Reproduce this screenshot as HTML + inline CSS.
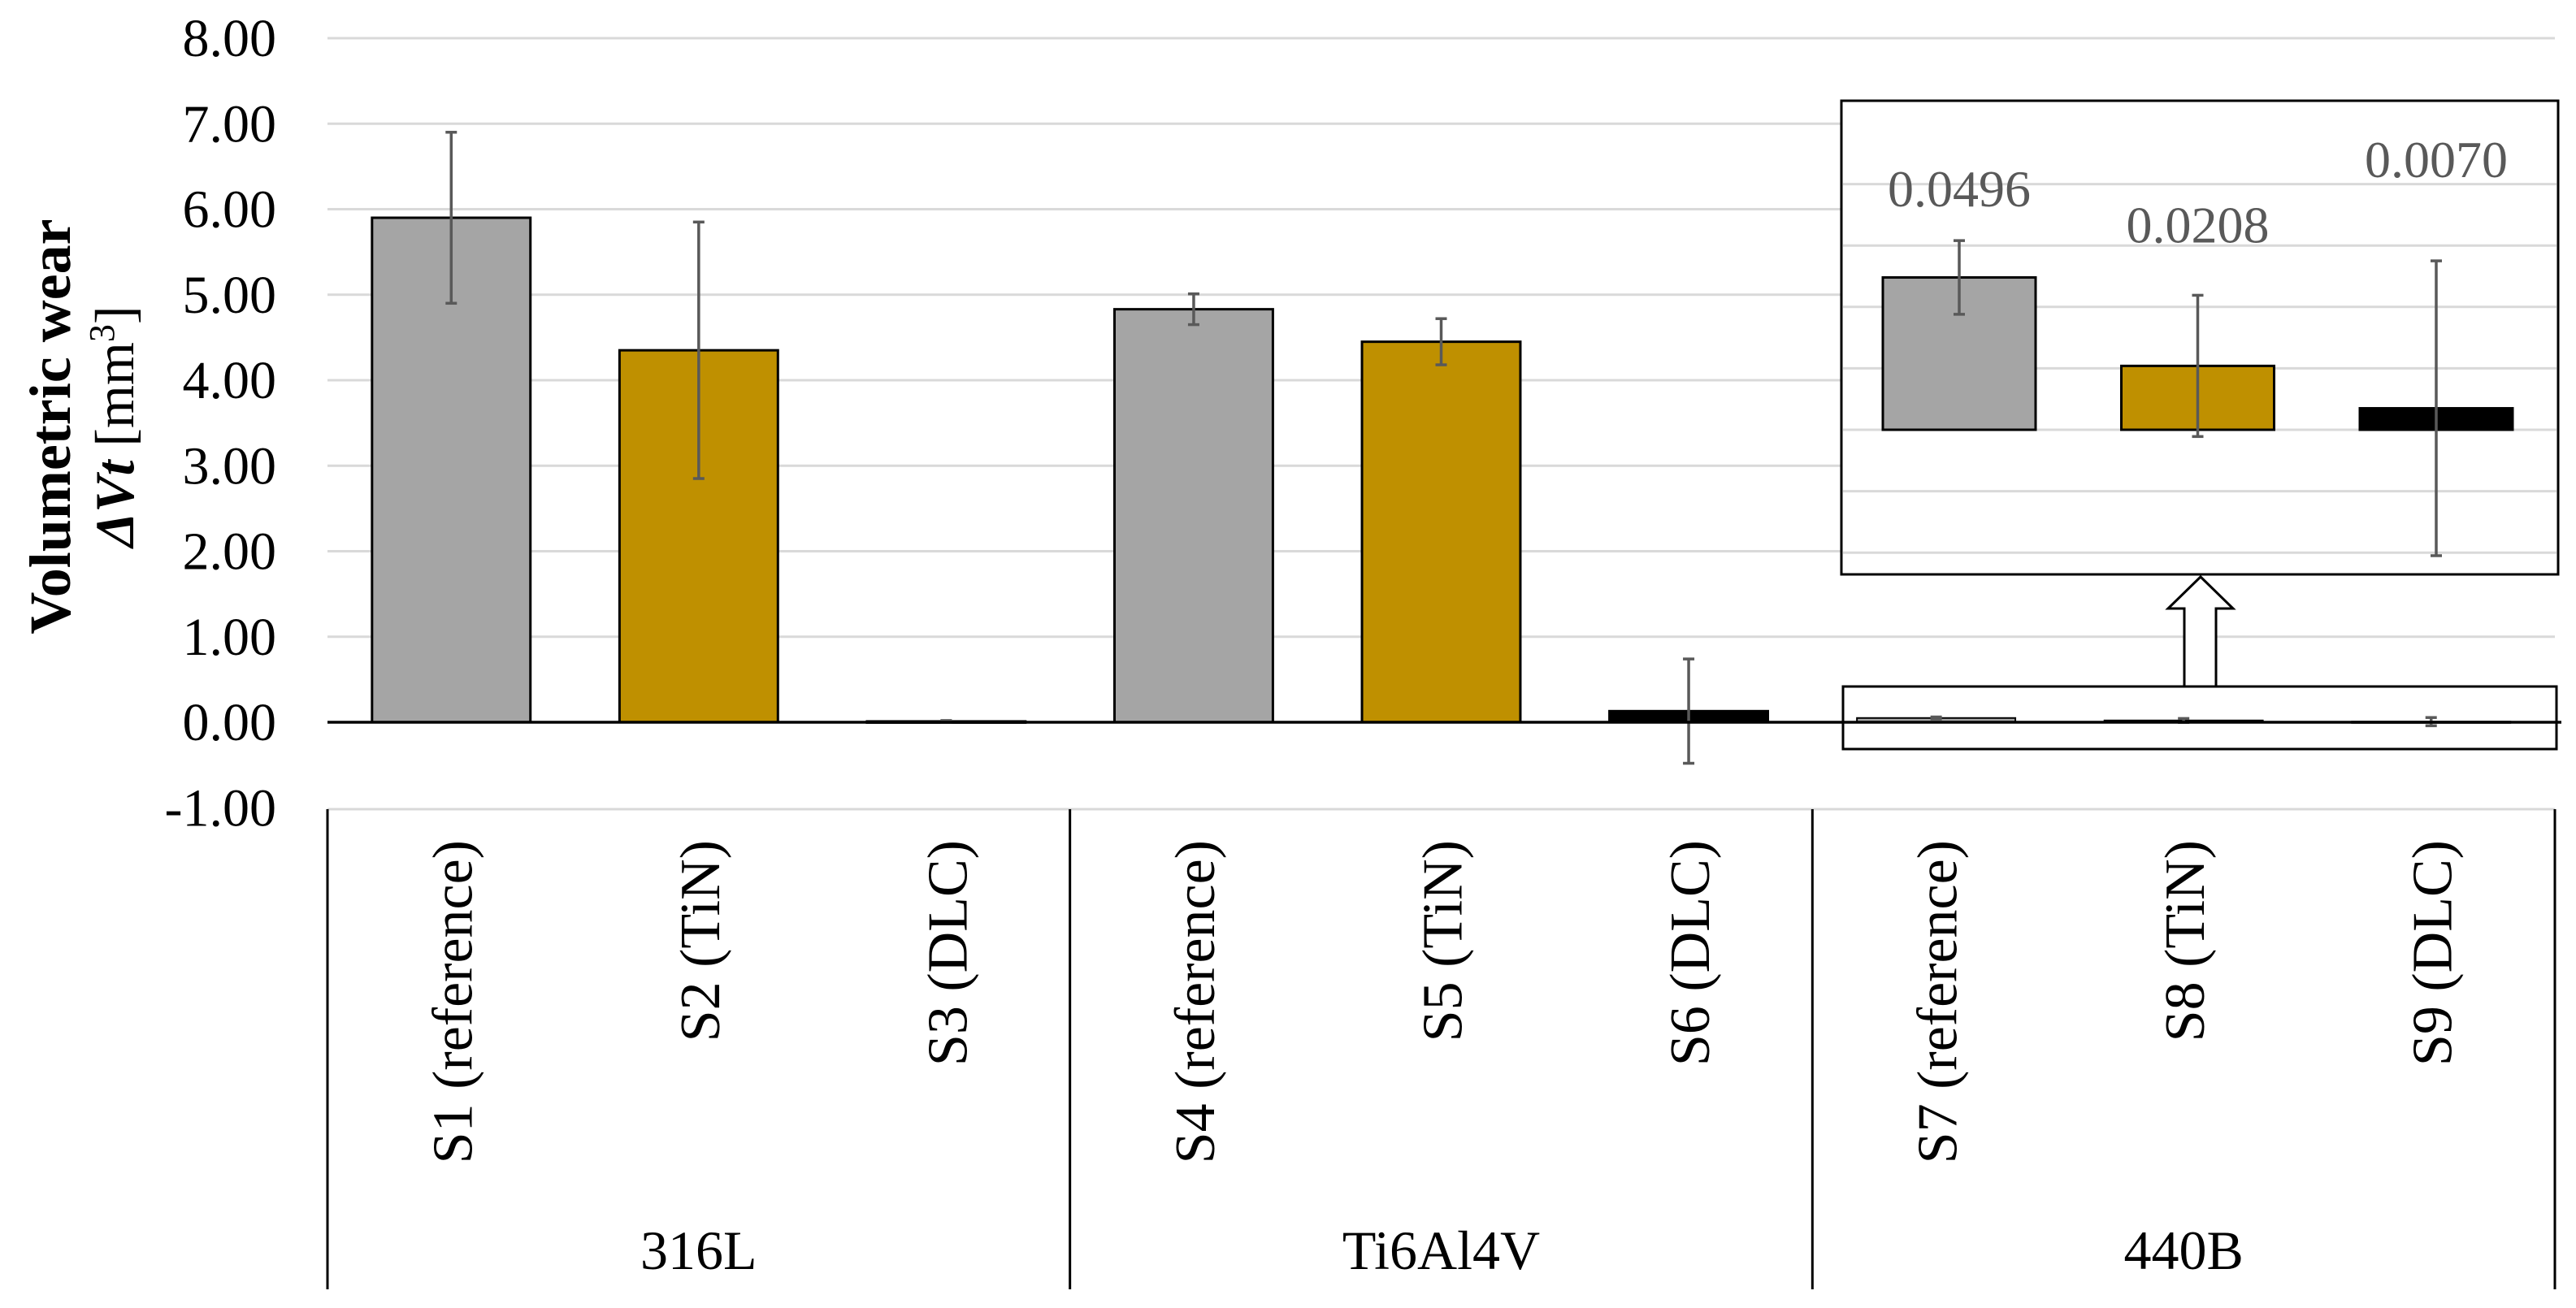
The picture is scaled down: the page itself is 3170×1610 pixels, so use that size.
<!DOCTYPE html>
<html><head><meta charset="utf-8"><style>
html,body{margin:0;padding:0;background:#fff;}
svg{display:block;}
text{font-family:"Liberation Serif",serif;}
</style></head><body>
<svg id="chart" width="3170" height="1610" viewBox="0 0 3170 1610" xmlns="http://www.w3.org/2000/svg">
<g id="grid"></g>
<g id="yticks"></g>
<g id="bars"></g>
<g id="xaxis"></g>
<g>
<text transform="translate(86,525) rotate(-90)" text-anchor="middle" font-size="72" font-weight="bold" fill="#000">Volumetric wear</text>
<text transform="translate(164,525) rotate(-90)" text-anchor="middle" font-size="68" fill="#000"><tspan font-style="italic" font-weight="bold">ΔVt</tspan> [mm<tspan dy="-24" font-size="44">3</tspan><tspan dy="24">]</tspan></text>
</g>
<g id="inset"></g>
</svg>
<script>
const categories = ["S1 (reference)","S2 (TiN)","S3 (DLC)","S4 (reference)","S5 (TiN)","S6 (DLC)","S7 (reference)","S8 (TiN)","S9 (DLC)"];
const groups = ["316L","Ti6Al4V","440B"];
const values = [5.90,4.35,0.01,4.83,4.45,0.13,0.0496,0.0208,0.0070];
const errors = [1.00,1.50,0.01,0.18,0.27,0.61,0.012,0.023,0.048];
const colors = ["#a5a5a5","#bf9000","#000000","#a5a5a5","#bf9000","#000000","#a5a5a5","#bf9000","#000000"];
const yTicks = [-1,0,1,2,3,4,5,6,7,8];
const insetValues = [0.0496,0.0208,0.0070];
const insetErrors = [0.012,0.023,0.048];
const insetLabels = ["0.0496","0.0208","0.0070"];
const insetGrid = [-0.04,-0.02,0,0.02,0.04,0.06,0.08];

const NS="http://www.w3.org/2000/svg";
function mk(tag,attrs,parent){const e=document.createElementNS(NS,tag);for(const k in attrs)e.setAttribute(k,attrs[k]);parent.appendChild(e);return e;}
const X0=403,X1=3144,Y0=889,PU=105.25;
const cw=(X1-X0)/categories.length;
const xc=i=>X0+cw*(i+0.5);
const y=v=>Y0-v*PU;
const bw=cw*0.64;

const grid=document.getElementById('grid');
const yt=document.getElementById('yticks');
yTicks.forEach(t=>{
  if(t>0){const l=mk('line',{x1:X0,x2:X1,y1:y(t),y2:y(t),stroke:'#d9d9d9','stroke-width':3},grid);
  
  }
  const tx=mk('text',{x:340,y:y(t)+22,'text-anchor':'end','font-size':66,fill:'#000'},yt);
  tx.textContent=t.toFixed(2);
  
  
});
const bars=document.getElementById('bars');
function errBar(parent,cx,yt2,yb){
  const g=mk('g',{stroke:'#595959','stroke-width':3.5},parent);
  mk('line',{x1:cx,x2:cx,y1:yt2,y2:yb},g);
  mk('line',{x1:cx-7,x2:cx+7,y1:yt2,y2:yt2},g);
  mk('line',{x1:cx-7,x2:cx+7,y1:yb,y2:yb},g);
  return g;
}
values.forEach((v,i)=>{
  const r=mk('rect',{x:xc(i)-bw/2,y:y(v),width:bw,height:Math.max(y(0)-y(v),1.5),fill:colors[i],stroke:'#000','stroke-width':i>=6?2:3},bars);
  
  
  const e=errBar(bars,xc(i),y(v+errors[i]),y(v-errors[i]));
  
  
});
mk('line',{x1:X0,x2:X1+8,y1:Y0,y2:Y0,stroke:'#000','stroke-width':3.5},bars);

const xa=document.getElementById('xaxis');
const AT=996,AB=1587;
mk('line',{x1:X0,x2:X1,y1:AT,y2:AT,stroke:'#d9d9d9','stroke-width':3},xa);
for(let g=0;g<=groups.length;g++){
  const x=X0+cw*3*g;
  mk('line',{x1:x,x2:x,y1:AT,y2:AB,stroke:'#000','stroke-width':3},xa);
}
categories.forEach((c,i)=>{
  const t=mk('text',{transform:`translate(${xc(i)+25},1034) rotate(-90)`,'text-anchor':'end','font-size':70,fill:'#000'},xa);
  t.textContent=c;
  
  
});
groups.forEach((g,i)=>{
  const t=mk('text',{x:X0+cw*(3*i+1.5),y:1562,'text-anchor':'middle','font-size':68,fill:'#000'},xa);
  t.textContent=g;
  
  
});

// inset
const ins=document.getElementById('inset');
const IB=529,IPU=3780;
const iy=v=>IB-v*IPU;
const ixc=i=>2411+i*293.5;
const ibw=188;
mk('rect',{x:2266,y:124,width:882,height:583,fill:'#fff',stroke:'#000','stroke-width':3},ins);
insetGrid.forEach(t=>{
  const l=mk('line',{x1:2268,x2:3146,y1:iy(t),y2:iy(t),stroke:'#d9d9d9','stroke-width':3},ins);
  
  
});
insetValues.forEach((v,i)=>{
  const r=mk('rect',{x:ixc(i)-ibw/2,y:iy(v),width:ibw,height:iy(0)-iy(v),fill:colors[6+i],stroke:'#000','stroke-width':3},ins);
  
  
  errBar(ins,ixc(i),iy(v+insetErrors[i]),iy(v-insetErrors[i]));
  const lbl=mk('text',{x:ixc(i),y:iy(v+insetErrors[i])-(i==2?103:i==1?65:42),'text-anchor':'middle','font-size':64,fill:'#595959'},ins);
  lbl.textContent=insetLabels[i];
  
  
});
const sb=mk('rect',{x:2268,y:845,width:878,height:77,fill:'none',stroke:'#000','stroke-width':3},ins);


const ar=mk('polygon',{points:'2688,845 2688,749 2668,749 2708,710 2748,749 2727,749 2727,845',fill:'#fff',stroke:'#000','stroke-width':3},ins);


</script>
</body></html>
